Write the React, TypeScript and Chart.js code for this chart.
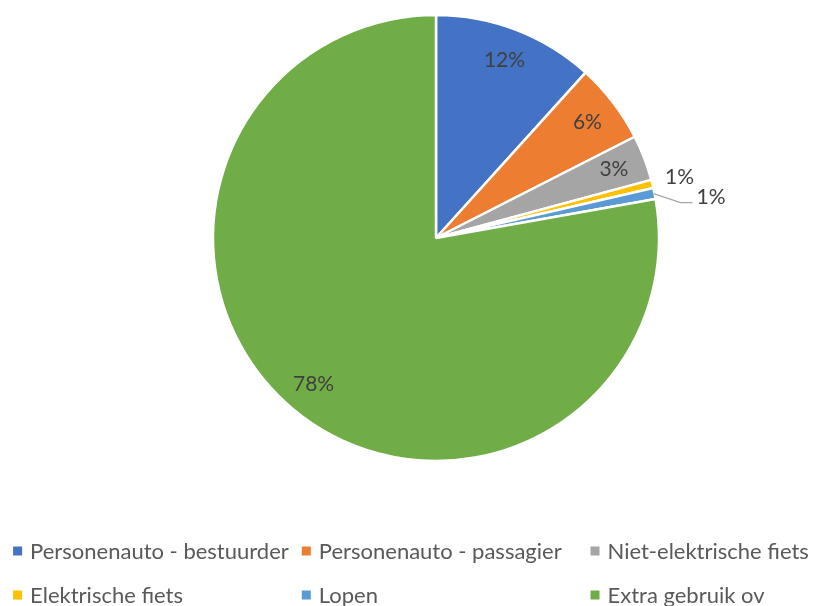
import React, { useEffect, useRef } from "react";
import { Chart, registerables } from "chart.js";

Chart.register(...registerables);

const categories = [
  "Personenauto - bestuurder",
  "Personenauto - passagier",
  "Niet-elektrische fiets",
  "Elektrische fiets",
  "Lopen",
  "Extra gebruik ov",
];
const shares = [11.7, 5.8, 3.3, 0.6, 0.8, 77.8];
const colors = ["#4472C4", "#ED7D31", "#A5A5A5", "#FFC000", "#5B9BD5", "#70AD47"];

const FONT = "Lato, 'Open Sans', sans-serif";

const labelPlugin = {
  id: "pctLabels",
  afterDatasetsDraw(chart: any) {
    const ctx = chart.ctx;
    const meta = chart.getDatasetMeta(0);
    const data = chart.data.datasets[0].data as number[];
    const total = data.reduce((a, b) => a + b, 0);
    let smallCount = 0;
    ctx.save();
    ctx.font = `21px ${FONT}`;
    ctx.fillStyle = "#404040";
    ctx.textBaseline = "middle";
    meta.data.forEach((arc: any, i: number) => {
      const { x, y, startAngle, endAngle, outerRadius } = arc.getProps(
        ["x", "y", "startAngle", "endAngle", "outerRadius"],
        true
      );
      const mid = (startAngle + endAngle) / 2;
      const pct = (data[i] / total) * 100;
      const txt = Math.round(pct) + "%";
      if (pct >= 2) {
        const r = outerRadius * 0.855;
        ctx.textAlign = "center";
        ctx.fillText(txt, x + Math.cos(mid) * r, y + Math.sin(mid) * r);
      } else if (smallCount === 0) {
        smallCount++;
        const r = outerRadius + 28;
        ctx.textAlign = "center";
        ctx.fillText(txt, x + Math.cos(mid) * r, y + Math.sin(mid) * r);
      } else {
        smallCount++;
        const sx = x + Math.cos(mid) * (outerRadius - 1);
        const sy = y + Math.sin(mid) * (outerRadius - 1);
        const ex = sx + 27;
        const ey = sy + 9;
        ctx.strokeStyle = "#A6A6A6";
        ctx.lineWidth = 1.3;
        ctx.beginPath();
        ctx.moveTo(sx, sy);
        ctx.lineTo(ex, ey);
        ctx.lineTo(ex + 12, ey);
        ctx.stroke();
        ctx.textAlign = "left";
        ctx.fillText(txt, ex + 16, ey - 5);
      }
    });
    ctx.restore();
  },
};

const legendPlugin = {
  id: "gridLegend",
  afterDraw(chart: any) {
    const ctx = chart.ctx;
    const labels = chart.data.labels as string[];
    const bg = chart.data.datasets[0].backgroundColor as string[];
    ctx.save();
    ctx.font = `22px ${FONT}`;
    ctx.textBaseline = "middle";
    ctx.textAlign = "left";
    const box = 9;
    const gapBox = 8;
    const colGap = 13;
    const cols = 3;
    const widths = labels.map((l) => box + gapBox + ctx.measureText(l).width);
    const itemW = Math.max(...widths);
    const lastColW = Math.max(...widths.filter((_, i) => i % cols === cols - 1));
    const total = (cols - 1) * (itemW + colGap) + lastColW;
    const startX = (chart.width - total) / 2 + 4;
    const row0 = chart.height - 55;
    const rowH = 44;
    labels.forEach((l, i) => {
      const c = i % cols;
      const r = Math.floor(i / cols);
      const bx = startX + c * (itemW + colGap);
      const cy = row0 + r * rowH;
      ctx.fillStyle = bg[i];
      ctx.fillRect(bx, cy - box / 2, box, box);
      ctx.fillStyle = "#595959";
      ctx.fillText(l, bx + box + gapBox, cy + 1);
    });
    ctx.restore();
  },
};

export default function App() {
  const ref = useRef<HTMLCanvasElement | null>(null);
  useEffect(() => {
    document.body.style.margin = "0";
    const chart = new Chart(ref.current as HTMLCanvasElement, {
      type: "pie",
      data: {
        labels: categories,
        datasets: [
          {
            data: shares,
            backgroundColor: colors,
            borderColor: "#FFFFFF",
            borderWidth: 2.5,
            hoverBorderWidth: 2.5,
            hoverOffset: 0,
            offset: 0,
          } as any,
        ],
      },
      options: {
        responsive: false,
        animation: false,
        radius: 223,
        layout: { padding: { left: 58, right: 0, top: 0, bottom: 130 } },
        plugins: {
          legend: { display: false },
          tooltip: { enabled: false },
        },
        events: [],
      } as any,
      plugins: [labelPlugin, legendPlugin],
    });
    return () => chart.destroy();
  }, []);
  return (
    <canvas
      ref={ref}
      width={814}
      height={606}
      style={{ display: "block", width: 814, height: 606 }}
    />
  );
}
